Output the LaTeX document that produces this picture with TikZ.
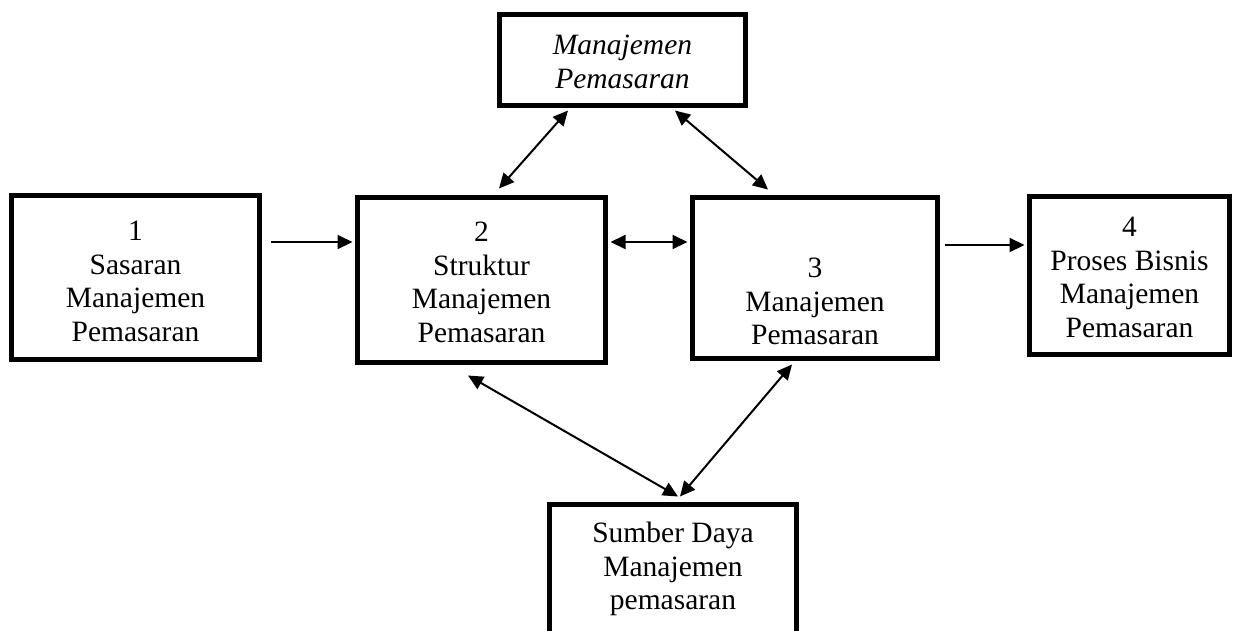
\documentclass[tikz,border=0pt]{standalone}
\usepackage{fontspec}
\setmainfont{Liberation Serif}
\usetikzlibrary{arrows.meta}
\begin{document}
\begin{tikzpicture}[x=1pt,y=-1pt,
  box/.style={draw, line width=5pt, inner sep=0pt},
  txt/.style={anchor=north, inner sep=0pt, align=center, font=\fontsize{29.5}{33.5}\selectfont},
  conn/.style={line width=2pt, -{Triangle[length=15pt,width=14pt]}},
  bconn/.style={line width=2pt, {Triangle[length=15pt,width=14pt]}-{Triangle[length=15pt,width=14pt]}}]
\useasboundingbox (0,0) rectangle (1235,630);
\clip (0,0) rectangle (1235,630);
% boxes
\node[box, minimum width=246pt, minimum height=91pt] (t) at (622.5,60) {};
\node[box, minimum width=248pt, minimum height=164pt] (b1) at (135.5,277.5) {};
\node[box, minimum width=248pt, minimum height=165pt] (b2) at (481.5,280) {};
\node[box, minimum width=245pt, minimum height=161pt] (b3) at (815,278) {};
\node[box, minimum width=200pt, minimum height=158pt] (b4) at (1129.5,275.5) {};
\node[box, minimum width=247pt, minimum height=137pt] (b5) at (673,573) {};
% texts
\node[txt, font=\fontsize{29.5}{33.5}\selectfont\itshape] (tt) at (622.5,35) {Manajemen\\Pemasaran};
\node[txt] (t1) at (135.5,221) {1\\Sasaran\\Manajemen\\Pemasaran};
\node[txt] (t2) at (481.5,222) {2\\Struktur\\Manajemen\\Pemasaran};
\node[txt] (t3) at (815,258) {3\\Manajemen\\Pemasaran};
\node[txt] (t4) at (1129.5,217) {4\\Proses Bisnis\\Manajemen\\Pemasaran};
\node[txt] (t5) at (673,522) {Sumber Daya\\Manajemen\\pemasaran};
% connectors
\draw[conn] ([shift={(8.5,-35.5)}]b1.east) -- ([shift={(-2.5,-38)}]b2.west);
\draw[bconn] ([shift={(2.5,-38)}]b2.east) -- ([shift={(-2.5,-36)}]b3.west);
\draw[conn] ([shift={(4.5,-33)}]b3.east) -- ([shift={(-2.5,-30.5)}]b4.west);
\draw[bconn] ([shift={(-54.5,2.5)}]t.south) -- ([shift={(17.5,-6.5)}]b2.north);
\draw[bconn] ([shift={(52.5,2.5)}]t.south) -- ([shift={(-47,-5.5)}]b3.north);
\draw[bconn] ([shift={(-13.5,10.5)}]b2.south) -- ([shift={(5,-5.5)}]b5.north);
\draw[bconn] ([shift={(-23,3.5)}]b3.south) -- ([shift={(7,-5.5)}]b5.north);
\end{tikzpicture}
\end{document}
